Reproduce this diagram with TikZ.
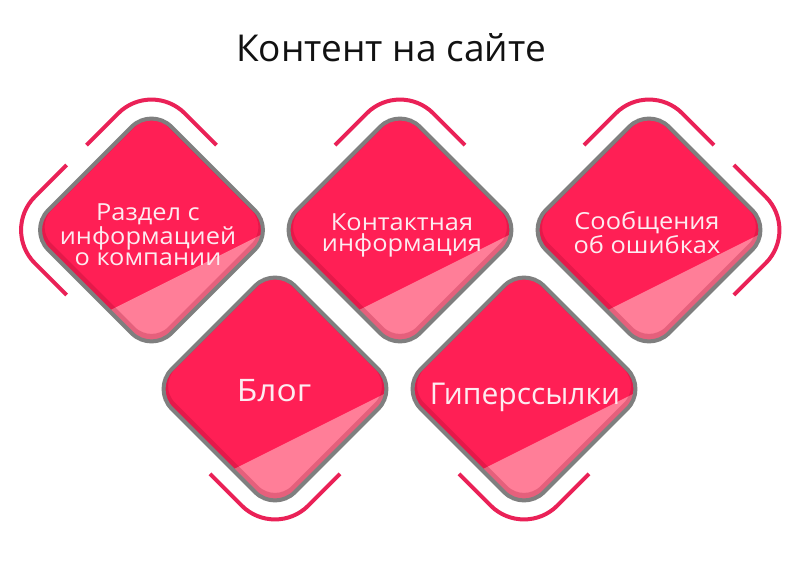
\documentclass[tikz,border=0pt]{standalone}
\usepackage{fontspec}
\setmainfont{Open Sans}
\newfontfamily\boxfont[FakeStretch=1.08]{Open Sans}
\definecolor{mainpink}{HTML}{FF1F55}
\definecolor{lightpink}{HTML}{FF7E98}
\definecolor{arcpink}{HTML}{EA2157}
\definecolor{bordergray}{HTML}{7F7F7F}
\definecolor{shadowred}{HTML}{9A0A2C}
\definecolor{textpink}{HTML}{FDEBF0}
\definecolor{titleblack}{HTML}{111111}
\newcommand\roundsq{(0,-87) -- (87,-87) -- (87,87) -- (-87,87) -- (-87,-87) -- cycle}
\newcommand\mydiamond[2]{%
  \begin{scope}[shift={(#1,-#2)}]
    \begin{scope}
      \clip[rotate=45,rounded corners=28pt] \roundsq;
      \fill[mainpink] (-130,-130) rectangle (130,130);
      \fill[lightpink] (-200,-159.5) -- (200,40.5) -- (200,-200) -- (-200,-200) -- cycle;
      \draw[shadowred, line width=9pt, opacity=0.25, shift={(0,3)}, rotate=45, rounded corners=28pt] \roundsq;
    \end{scope}
    \draw[bordergray, line width=4pt, rotate=45, rounded corners=28pt] \roundsq;
  \end{scope}}
\tikzset{
  arcline/.style={arcpink, line width=4pt, rounded corners=47pt},
  boxtext/.style={text=textpink, align=center, inner sep=0pt, font=\boxfont\fontsize{23.5}{21.5}\selectfont},
  bigtext/.style={text=textpink, inner sep=0pt, anchor=base, font=\fontsize{30}{34}\selectfont},
  titletext/.style={text=titleblack, inner sep=0pt, anchor=base, font=\fontsize{37}{40}\selectfont}
}
\begin{document}
\begin{tikzpicture}[x=1pt,y=1pt]
\useasboundingbox (0,0) rectangle (803,-569);
\fill[white] (0,0) rectangle (803,-569);
\mydiamond{151.5}{230}
\mydiamond{400}{230}
\mydiamond{649}{230}
\mydiamond{275}{389}
\mydiamond{524}{389}
% decorative arcs
\begin{scope}[shift={(151.5,-230)}, rotate=45]
  \draw[arcline] (14,106) -- (106,106) -- (106,14);
  \draw[arcline] (-14,106) -- (-106,106) -- (-106,14);
\end{scope}
\begin{scope}[shift={(400,-230)}, rotate=45]
  \draw[arcline] (14,106) -- (106,106) -- (106,14);
\end{scope}
\begin{scope}[shift={(649,-230)}, rotate=45]
  \draw[arcline] (14,106) -- (106,106) -- (106,14);
  \draw[arcline] (106,-14) -- (106,-106) -- (14,-106);
\end{scope}
\begin{scope}[shift={(275,-389)}, rotate=45]
  \draw[arcline] (-106,-14) -- (-106,-106) -- (-14,-106);
\end{scope}
\begin{scope}[shift={(524,-389)}, rotate=45]
  \draw[arcline] (-106,-14) -- (-106,-106) -- (-14,-106);
\end{scope}
% texts
\node[titletext] (title) at (391,-61.7) {Контент на сайте};
\node[boxtext] (t1) at (148,-235) {Раздел с\\информацией\\о компании};
\node[boxtext] (t2) at (402,-235.5) {Контактная\\информация};
\node[boxtext] (t3) at (647,-232.5) {Сообщения\\об ошибках};
\node[bigtext, font=\boxfont\fontsize{31}{34}\selectfont] (t4) at (274,-401) {Блог};
\node[bigtext] (t5) at (525,-404) {Гиперссылки};
\end{tikzpicture}
\end{document}
